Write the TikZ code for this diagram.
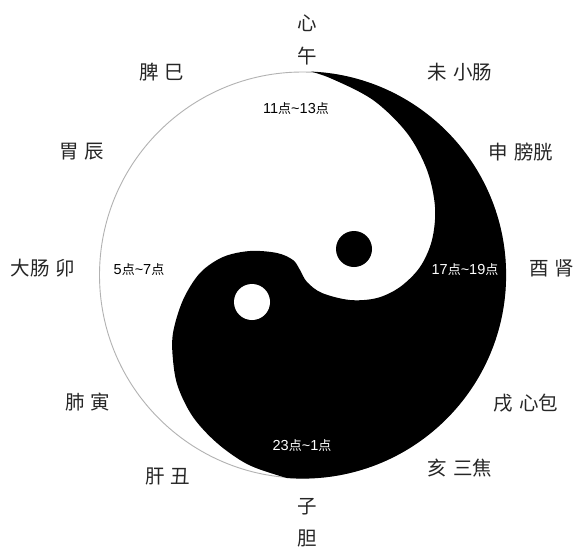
\documentclass[tikz,border=0pt]{standalone}
\usepackage{fontspec}
\setmainfont{Liberation Sans}
\newfontfamily\cjk{Noto Sans CJK SC}
\newcommand{\dian}{{\cjk\fontsize{13}{13}\selectfont 点}}
\newcommand{\gap}{\hspace{0.3em}}
\tikzset{
  lab/.style={font=\cjk\fontsize{19.5}{20}\selectfont, text=black!85, inner sep=0pt},
  hour/.style={font=\fontsize{14.5}{14.5}\selectfont, inner sep=0pt},
  hourw/.style={hour, text=white},
  rim/.style={draw=gray!60, line width=0.9pt},
}
\begin{document}
\begin{tikzpicture}[x=1pt,y=-1pt]
\useasboundingbox (0,0) rectangle (577,547);
\fill[white] (0,0) rectangle (577,547);
\coordinate (O) at (302.5,275);
\draw[rim] (O) circle (203);
\begin{scope}
  \clip (O) circle (203.6);
  \fill[black] plot[smooth, tension=0.55] coordinates {
    (300,481) (280,476) (247,464) (217,443) (193,417) (178,387) (173,360)
    (173,333) (183,300) (200,273) (223,257) (250,251) (277,253) (293,260)
    (300,270) (307,282) (322,293) (350,300) (377,298) (400,287) (420,267)
    (432,240) (435,207) (427,170) (407,133) (373,100) (330,78) (305,70)}
    -- (305,40) -- (560,40) -- (560,520) -- (300,520) -- cycle;
\end{scope}
\fill[black] (354,249) circle (18);
\fill[white] (252,302) circle (18);

\node[lab] (xin) at (307,23) {心};
\node[lab] (wu) at (307,56) {午};
\node[lab] (pisi) at (162,72) {脾\gap 巳};
\node[lab] (weichen) at (82,152) {胃\gap 辰};
\node[lab] (damao) at (43,268) {大肠\gap 卯};
\node[lab] (feiyin) at (88,402) {肺\gap 寅};
\node[lab] (ganchou) at (168,476) {肝\gap 丑};
\node[lab] (zi) at (307,507) {子};
\node[lab] (dan) at (307,538) {胆};
\node[lab] (weixc) at (460,72) {未\gap 小肠};
\node[lab] (shenpg) at (521,152) {申\gap 膀胱};
\node[lab] (youshen) at (552,268) {酉\gap 肾};
\node[lab] (xuxb) at (526,403) {戌\gap 心包};
\node[lab] (haisj) at (460,468) {亥\gap 三焦};

\node[hour] (h11) at (296,109) {11\dian\textasciitilde13\dian};
\node[hour] (h5) at (139,270) {5\dian\textasciitilde7\dian};
\node[hourw] (h17) at (465,270) {17\dian\textasciitilde19\dian};
\node[hourw] (h23) at (302,446) {23\dian\textasciitilde1\dian};
\end{tikzpicture}
\end{document}
